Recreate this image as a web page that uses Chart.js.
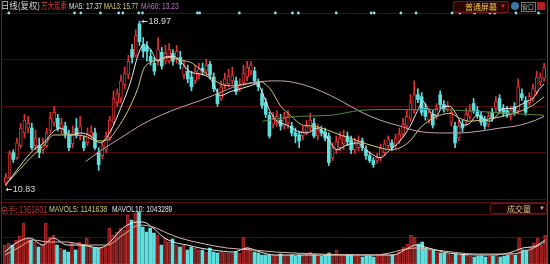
<!DOCTYPE html>
<html>
<head>
<meta charset="utf-8">
<script src="https://cdn.jsdelivr.net/npm/chart.js@4"></script>
<style>
  html, body { margin: 0; padding: 0; background: #000; }
  #wrap { position: relative; width: 550px; height: 264px; overflow: hidden; background: #000;
          font-family: "Liberation Sans", "Noto Sans CJK SC", sans-serif; }
  canvas { position: absolute; left: 0; }
  #priceChart { top: 0; }
  #volChart { top: 203px; }
  .txt { position: absolute; font-size: 9px; line-height: 10px; white-space: nowrap; transform-origin: 0 0; }
  .cjk { font-family: "Noto Sans CJK SC", sans-serif; }
  .edgeL { position: absolute; left: 1px; top: 0; width: 1px; height: 264px; background: #8a1414; }
  .edgeR { position: absolute; left: 547px; top: 0; width: 1px; height: 264px; background: #b81e1e; }
  .btn { position: absolute; border: 1px solid #6a1a1a; border-radius: 2px; background: #2a0606;
         font-size: 8px; line-height: 9px; }
</style>
</head>
<body>
<div id="wrap">
  <canvas id="priceChart" width="550" height="203"></canvas>
  <canvas id="volChart" width="550" height="61"></canvas>
  <div class="edgeL"></div>
  <div class="edgeR"></div>
  <div style="position:absolute;left:0;top:202px;width:550px;height:1px;background:#5a0e0e;"></div>

  <div class="txt cjk" style="left:1px;top:1px;color:#d8d8d8;transform:scaleX(0.93);">日线(复权)</div>
  <div class="txt cjk" style="left:41px;top:1px;color:#d83a3a;transform:scaleX(0.72);">方大炭素</div>
  <div class="txt" style="left:69px;top:1px;color:#e0e0e0;transform:scaleX(0.72);">MA5: 17.37</div>
  <div class="txt" style="left:104px;top:1px;color:#e0d070;transform:scaleX(0.67);">MA13: 15.77</div>
  <div class="txt" style="left:141px;top:1px;color:#c070d0;transform:scaleX(0.74);">MA60: 13.23</div>

  <div class="btn" style="left:453px;top:1px;width:54px;height:10px;">
    <span class="cjk" style="position:absolute;left:11px;top:0;color:#e8c850;">普通屏幕</span>
    <span style="position:absolute;left:46px;top:0;color:#c83030;font-size:6px;">▼</span>
  </div>
  <div class="txt" style="left:511px;top:2px;width:8px;height:8px;border-radius:4px;background:#3a78a8;"></div>
  <div class="txt cjk" style="left:521px;top:2px;width:13px;height:8px;border:1px solid #7a7a7a;font-size:6px;line-height:8px;color:#c0c0c0;">窗口</div>
  <div class="txt" style="left:537px;top:2px;width:8px;height:8px;background:#b02020;"></div>

  <div class="txt cjk" style="left:1px;top:204px;color:#d03a3a;font-size:8.5px;transform:scaleX(0.85);">总手: 1361801</div>
  <div class="txt" style="left:49px;top:204px;color:#d8c870;font-size:8.5px;transform:scaleX(0.82);">MAVOL5: 1141638</div>
  <div class="txt" style="left:112px;top:204px;color:#e0e0e0;font-size:8.5px;transform:scaleX(0.79);">MAVOL10: 1043289</div>
  <div class="btn" style="left:490px;top:203px;width:55px;height:9px;background:#140202;">
    <span class="cjk" style="position:absolute;left:16px;top:0;color:#d8c080;">成交量</span>
    <span style="position:absolute;left:48px;top:0;color:#b0b0b0;font-size:6px;">▼</span>
  </div>
</div>

<script>
// daily candles, oldest first
const openPrices = [
  10.97, 11.26, 12.48, 12.23, 12.82, 13.45, 13.69, 13.69, 12.82, 12.82,
  12.62, 12.82, 13.59, 13.93, 14.17, 13.59, 13.79, 13.35, 12.91, 13.69,
  13.30, 13.01, 12.96, 13.30, 13.45, 12.48, 12.33, 12.62, 13.20, 13.98,
  14.95, 15.15, 15.83, 16.31, 17.57, 17.28, 18.83, 17.77, 17.72, 17.23,
  16.89, 16.99, 17.43, 16.99, 16.99, 17.38, 17.09, 17.18, 16.31, 16.50,
  16.21, 16.02, 16.31, 16.65, 16.50, 16.84, 16.21, 15.39, 15.15, 15.83,
  15.87, 16.02, 16.02, 15.63, 15.92, 16.21, 16.50, 16.50, 15.97, 15.39,
  14.95, 14.32, 13.88, 13.98, 14.08, 13.79, 13.93, 13.79, 13.45, 13.35,
  13.30, 13.50, 13.69, 13.93, 13.30, 13.59, 13.50, 13.30, 12.23, 12.62,
  12.72, 12.91, 13.30, 13.11, 12.62, 12.72, 13.06, 12.62, 12.33, 12.09,
  12.09, 12.23, 12.48, 12.82, 12.96, 12.82, 13.06, 13.40, 13.79, 14.17,
  14.56, 15.34, 15.24, 14.66, 14.08, 14.37, 14.27, 15.34, 14.85, 14.66,
  13.98, 13.79, 13.20, 13.88, 13.98, 14.27, 14.90, 14.56, 14.32, 14.08,
  13.88, 14.47, 14.66, 15.15, 14.66, 14.56, 14.27, 14.76, 14.56, 15.39,
  15.05, 14.95, 15.15, 15.49, 15.97, 16.12
];
const highPrices = [
  11.46, 12.57, 12.62, 13.20, 13.93, 14.37, 14.27, 13.93, 13.59, 13.20,
  13.20, 13.69, 14.47, 14.76, 14.37, 14.17, 13.98, 13.59, 13.79, 14.17,
  14.27, 13.30, 13.69, 13.79, 13.69, 12.72, 13.01, 13.50, 14.27, 15.53,
  15.63, 16.31, 16.70, 17.28, 17.82, 18.54, 18.97, 18.16, 17.96, 17.57,
  17.18, 18.16, 17.67, 17.77, 17.86, 17.57, 17.77, 17.48, 16.99, 16.80,
  16.50, 16.80, 16.89, 16.89, 17.09, 16.99, 16.41, 15.63, 16.02, 16.41,
  16.60, 16.70, 16.21, 16.12, 16.80, 16.99, 16.99, 16.70, 16.12, 15.63,
  15.15, 14.47, 14.47, 14.56, 14.37, 14.47, 14.56, 13.98, 13.69, 13.54,
  13.79, 14.08, 14.42, 14.17, 13.88, 13.79, 13.69, 13.45, 12.96, 13.30,
  13.50, 13.59, 13.50, 13.30, 13.20, 13.30, 13.20, 12.82, 12.52, 12.23,
  12.43, 12.91, 13.11, 13.30, 13.11, 13.40, 13.69, 14.17, 14.56, 15.34,
  16.02, 15.63, 15.44, 14.90, 14.66, 14.56, 14.90, 15.53, 15.05, 15.00,
  14.66, 13.98, 14.08, 14.08, 14.66, 14.85, 15.15, 14.76, 14.51, 14.27,
  14.47, 14.66, 15.24, 15.34, 14.85, 14.76, 14.76, 14.95, 16.12, 15.63,
  15.24, 15.44, 15.87, 16.50, 16.41, 16.89
];
const lowPrices = [
  10.83, 11.17, 11.99, 12.14, 12.72, 13.20, 13.45, 12.62, 12.62, 12.23,
  12.43, 12.72, 13.45, 13.79, 13.54, 13.40, 13.20, 12.57, 12.72, 13.20,
  13.11, 12.57, 12.82, 13.16, 12.62, 11.60, 12.18, 12.48, 13.06, 13.88,
  14.76, 14.95, 15.63, 16.12, 16.89, 17.18, 17.77, 17.18, 16.99, 16.80,
  16.31, 16.80, 16.60, 16.84, 16.89, 16.80, 16.89, 16.60, 16.12, 15.92,
  15.53, 15.87, 16.12, 16.31, 16.31, 16.12, 15.49, 14.76, 15.05, 15.63,
  15.73, 15.87, 15.34, 15.49, 15.78, 16.02, 16.31, 15.87, 15.53, 14.66,
  14.22, 13.20, 13.69, 13.79, 13.59, 13.64, 13.69, 13.30, 12.96, 12.72,
  13.11, 13.35, 13.54, 13.20, 13.11, 13.30, 13.06, 11.84, 12.09, 12.43,
  12.57, 12.62, 12.82, 12.43, 12.43, 12.57, 12.57, 12.14, 11.99, 11.75,
  11.94, 12.09, 12.33, 12.67, 12.57, 12.67, 12.91, 13.25, 13.64, 14.03,
  14.42, 14.95, 14.32, 14.08, 13.93, 13.69, 14.13, 14.66, 14.47, 14.51,
  13.79, 12.72, 13.06, 13.50, 13.83, 14.13, 14.42, 14.17, 13.83, 13.64,
  13.74, 14.03, 14.51, 14.42, 14.27, 14.22, 14.08, 14.32, 14.42, 15.05,
  14.32, 14.81, 15.00, 15.34, 15.78, 16.02
];
const closePrices = [
  11.26, 12.43, 12.14, 12.96, 13.69, 14.08, 13.93, 12.72, 13.20, 12.48,
  12.91, 13.45, 14.17, 14.47, 13.69, 13.93, 13.40, 12.72, 13.45, 13.35,
  13.79, 12.72, 13.40, 13.50, 12.72, 11.89, 12.82, 13.30, 14.08, 15.15,
  15.39, 16.02, 16.41, 16.99, 17.18, 18.25, 17.96, 17.48, 17.48, 16.99,
  16.50, 17.57, 16.75, 17.38, 17.57, 16.99, 17.48, 16.84, 16.70, 16.12,
  15.73, 16.50, 16.60, 16.50, 16.80, 16.31, 15.63, 14.90, 15.73, 16.12,
  16.26, 16.31, 15.49, 15.83, 16.41, 16.70, 16.80, 16.02, 15.73, 14.81,
  14.37, 13.30, 14.17, 14.27, 13.79, 14.17, 14.27, 13.45, 13.30, 13.06,
  13.54, 13.79, 14.08, 13.30, 13.59, 13.45, 13.20, 11.99, 12.72, 13.01,
  13.20, 13.30, 13.01, 12.62, 12.91, 13.01, 12.72, 12.33, 12.09, 11.89,
  12.23, 12.72, 12.91, 13.11, 12.72, 13.20, 13.40, 13.88, 14.27, 14.95,
  15.34, 15.10, 14.47, 14.27, 14.47, 13.83, 14.66, 14.85, 14.61, 14.81,
  14.47, 12.96, 13.79, 13.69, 14.37, 14.56, 14.56, 14.32, 13.98, 13.79,
  14.27, 14.17, 15.00, 14.56, 14.42, 14.37, 14.56, 14.47, 15.73, 15.19,
  14.47, 15.24, 15.63, 16.21, 16.21, 16.70
];
// volume, thousand lots
const volumes = [
  893, 987, 890, 1128, 1316, 1927, 1222, 1130, 1034, 799,
  893, 1925, 1269, 1363, 895, 752, 658, 566, 987, 660,
  1034, 893, 1222, 890, 752, 755, 799, 846, 1692, 1363,
  1504, 1690, 1598, 2303, 2068, 2397, 2444, 1739, 1504, 1692,
  1457, 1363, 893, 1222, 1034, 1175, 893, 799, 890, 658,
  799, 752, 660, 655, 564, 752, 566, 517, 564, 520,
  517, 515, 564, 517, 1269, 799, 658, 564, 517, 423,
  425, 430, 423, 420, 470, 423, 425, 423, 376, 423,
  420, 470, 564, 423, 425, 376, 423, 517, 423, 658,
  470, 423, 425, 423, 376, 380, 329, 376, 376, 329,
  376, 470, 517, 423, 423, 470, 564, 799, 940, 1363,
  1269, 940, 1034, 752, 658, 660, 564, 517, 520, 470,
  423, 470, 423, 425, 423, 376, 329, 376, 380, 329,
  376, 376, 423, 329, 376, 423, 517, 423, 1222, 658,
  660, 800, 1000, 1222, 893, 1361.801
];

// moving average lines: [day, value]
const ma5Points = [
  [0, 10.90], [7.5, 12.62], [10.2, 12.96], [12.9, 13.54], [14.8, 13.69], [17.5, 13.35], [20.2, 13.45],
  [22.8, 13.30], [25.5, 12.96], [28.2, 13.54], [30.9, 14.66], [33.6, 15.97], [35.5, 17.23], [37.1, 17.82],
  [39, 17.57], [40.9, 16.99], [43.5, 17.23], [45.2, 17.23], [47, 16.99], [49.7, 16.46], [52.4, 16.36],
  [55.1, 16.12], [57.8, 15.29], [60.5, 15.49], [63.2, 15.63], [65.9, 15.78], [67.7, 15.87], [69.4, 15.29],
  [71.2, 14.51], [73.1, 14.03], [75.8, 13.83], [78.5, 13.54], [81.2, 13.45], [83.9, 13.69], [86.6, 13.20],
  [89.2, 12.62], [91.9, 12.86], [94.6, 12.96], [97.3, 12.57], [100.8, 12.23], [103.5, 12.62], [106.2, 13.06],
  [108.9, 13.79], [110.8, 14.51], [112.4, 15.00], [114.2, 14.51], [116.1, 14.32], [117.7, 14.76], [119.6, 14.76],
  [121.5, 14.32], [123.1, 13.83], [125, 13.93], [126.9, 14.32], [128.5, 14.17], [130.4, 14.03], [132.3, 14.32],
  [133.9, 14.66], [136.6, 14.66], [138.4, 14.81], [140.3, 15.00], [141.9, 15.15], [143.8, 15.63], [145, 15.87]
];
const ma13Points = [
  [0, 10.90], [7.5, 12.38], [10.2, 12.82], [12.9, 13.35], [16.7, 13.35], [21, 13.30], [24.7, 13.06],
  [27.4, 13.11], [30.1, 13.69], [32.8, 14.51], [35.5, 15.63], [37.1, 16.60], [39, 16.94], [41.7, 17.09],
  [44.4, 17.18], [47, 17.04], [49.7, 16.94], [52.4, 16.60], [57.8, 15.87], [60.5, 15.78], [65.1, 15.87],
  [68.5, 15.97], [71.2, 15.63], [73.9, 14.81], [76.6, 14.32], [80.1, 13.83], [82.8, 13.79], [86.6, 13.59],
  [90.1, 13.35], [93.5, 13.15], [97.3, 12.90], [100.8, 12.72], [103.5, 12.62], [106.2, 12.72], [108.9, 13.06],
  [111.6, 13.69], [114.2, 14.08], [116.9, 14.32], [119.6, 14.42], [122.3, 14.17], [125, 14.03], [127.7, 14.08],
  [131.2, 14.17], [134.9, 14.32], [138.4, 14.51], [141.9, 14.81], [145, 15.24]
];
const ma60Points = [
  [21.5, 12.04], [25.5, 12.57], [30.9, 13.20], [36.3, 13.83], [41.7, 14.32], [47, 14.71], [52.4, 15.05],
  [57, 15.39], [62.4, 15.78], [67.7, 15.97], [73.9, 16.02], [79.3, 15.87], [84.7, 15.53], [90.1, 15.05],
  [95.4, 14.51], [100.8, 14.08], [106.2, 13.79], [110.8, 13.54], [116.9, 13.45], [122.3, 13.45], [127.7, 13.54],
  [133.1, 13.69], [138.4, 13.83], [142.7, 14.08], [145, 14.27]
];
const longMaPoints = [
  [69.1, 14.03], [73.9, 14.17], [79.3, 14.27], [87.4, 14.32], [95.4, 14.56], [104.3, 14.61], [113.4, 14.61],
  [122.3, 14.56], [131.2, 14.47], [140.3, 14.37], [145, 14.32]
];
const mavol5Points = [
  [0, 564], [2.2, 893], [6.7, 1222], [10.2, 893], [12.9, 1222], [16.7, 893], [20.2, 893], [25.5, 752],
  [28.2, 1034], [31.7, 1692], [35.5, 1974], [37.1, 1974], [39.8, 1692], [42.5, 1269], [45.2, 1034],
  [48.9, 893], [52.4, 752], [55.9, 658], [61.3, 564], [65.1, 752], [68.5, 564], [72.6, 423], [90.6, 423],
  [104, 423], [108.3, 752], [110.2, 893], [113.7, 752], [119.1, 517], [129.8, 423], [135.2, 517],
  [139, 752], [142.5, 850], [145, 1141.6]
];
const mavol10Points = [
  [0, 423], [4, 799], [7.5, 1128], [12.1, 1034], [16.7, 1034], [22, 893], [27.4, 893], [31.7, 1363],
  [36.3, 1833], [39.8, 1739], [43.5, 1457], [47, 1222], [52.4, 987], [59.7, 752], [66.7, 658], [72.6, 564],
  [99.5, 423], [110.2, 752], [115.6, 658], [126.3, 470], [135.2, 470], [140.6, 650], [145, 1043.3]
];
// info-mine dots on the top border
const noticeDays = [0.8, 18.5, 20.2, 25.5, 30.4, 31.5, 35.8, 36.8, 51.6, 52.2, 62.9, 72.6, 77.2, 78.8,
  89, 98.4, 99.2, 106.4, 110.5, 120.2, 122.3, 126.3, 130.4, 131.7, 137.4, 143.5];

const priceGridLines = [10.19, 12.485, 14.78, 17.075, 19.37];
const volumeGridLines = [1269, 2350];
const volumeMax = 2870;

const UP = '#e03434';
const DOWN = '#5fdede';
const GRID = '#4e0c0c';
const days = closePrices.map((c, i) => i);
const isUp = (i) => closePrices[i] >= openPrices[i];
const pts = (arr) => arr.map(p => ({x: p[0], y: p[1]}));

function maLine(points, color) {
    return {
        type: 'line',
        data: pts(points),
        borderColor: color,
        borderWidth: 1,
        pointRadius: 0,
        tension: 0.35,
        cubicInterpolationMode: 'monotone',
        order: 1
    };
}

const extremeMarks = {
    id: 'extremeMarks',
    afterDatasetsDraw(chart) {
        const {ctx, scales: {x, y}} = chart;
        const hi = Math.max(...highPrices);
        const lo = Math.min(...lowPrices);
        ctx.save();
        ctx.strokeStyle = '#d0d0d0';
        ctx.fillStyle = '#d8d8d8';
        ctx.lineWidth = 1;
        ctx.font = '9px "Liberation Sans", sans-serif';
        ctx.textBaseline = 'middle';
        const marks = [
            [x.getPixelForValue(highPrices.indexOf(hi)), Math.round(y.getPixelForValue(hi)), hi],
            [x.getPixelForValue(lowPrices.indexOf(lo)) - 2, Math.round(y.getPixelForValue(lo)) + 3, lo]
        ];
        marks.forEach(([px, py, v]) => {
            ctx.beginPath();
            ctx.moveTo(px + 2, py + 0.5);
            ctx.lineTo(px + 8, py + 0.5);
            ctx.stroke();
            ctx.beginPath();
            ctx.moveTo(px + 2, py + 0.5);
            ctx.lineTo(px + 4, py - 1.5);
            ctx.lineTo(px + 4, py + 2.5);
            ctx.closePath();
            ctx.fill();
            ctx.fillText(v.toFixed(2), px + 9, py + 1);
        });
        ctx.restore();
    }
};

const noAxisWidth = (s) => { s.width = 0; };

new Chart(document.getElementById('priceChart'), {
    type: 'bar',
    data: {
        datasets: [
            {
                data: days.map(i => ({x: i, y: [lowPrices[i], highPrices[i]]})),
                backgroundColor: (c) => isUp(c.dataIndex) ? UP : DOWN,
                barThickness: 1,
                grouped: false,
                order: 3
            },
            {
                data: days.map(i => ({x: i, y: [openPrices[i], closePrices[i]]})),
                backgroundColor: (c) => isUp(c.dataIndex) ? '#000' : DOWN,
                borderColor: (c) => isUp(c.dataIndex) ? UP : DOWN,
                borderWidth: (c) => isUp(c.dataIndex) ? 1 : 0,
                borderSkipped: false,
                minBarLength: 1,
                barThickness: 3,
                grouped: false,
                order: 2
            },
            maLine(longMaPoints, '#4f8a3a'),
            maLine(ma60Points, '#c8a0b4'),
            maLine(ma13Points, '#d8c878'),
            maLine(ma5Points, '#e8e8e8'),
            {
                type: 'scatter',
                data: noticeDays.map(d => ({x: d, y: priceGridLines[priceGridLines.length - 1]})),
                pointRadius: 1.4,
                pointBackgroundColor: '#86e6e6',
                pointBorderWidth: 0,
                clip: false,
                order: 0
            }
        ]
    },
    options: {
        responsive: false,
        animation: false,
        layout: { padding: { left: 3, right: 3, top: 13, bottom: 1 } },
        plugins: { legend: { display: false }, tooltip: { enabled: false } },
        scales: {
            x: { type: 'linear', min: -0.5, max: days.length - 0.5, offset: false, display: false },
            y: {
                min: priceGridLines[0],
                max: priceGridLines[priceGridLines.length - 1],
                afterBuildTicks: (axis) => { axis.ticks = priceGridLines.map(v => ({value: v})); },
                afterFit: noAxisWidth,
                ticks: { display: false },
                grid: { color: GRID, drawTicks: false },
                border: { display: false }
            }
        }
    },
    plugins: [extremeMarks]
});

new Chart(document.getElementById('volChart'), {
    type: 'bar',
    data: {
        datasets: [
            {
                data: days.map(i => ({x: i, y: volumes[i]})),
                backgroundColor: (c) => isUp(c.dataIndex) ? '#7a1a1a' : DOWN,
                borderColor: (c) => isUp(c.dataIndex) ? '#b82a2a' : DOWN,
                borderWidth: (c) => isUp(c.dataIndex) ? 1 : 0,
                borderSkipped: false,
                barThickness: 3,
                grouped: false,
                order: 2
            },
            maLine(mavol10Points, '#d8b8a0'),
            maLine(mavol5Points, '#e8e8e8')
        ]
    },
    options: {
        responsive: false,
        animation: false,
        layout: { padding: { left: 3, right: 3, top: 0, bottom: 0 } },
        plugins: { legend: { display: false }, tooltip: { enabled: false } },
        scales: {
            x: { type: 'linear', min: -0.5, max: days.length - 0.5, offset: false, display: false },
            y: {
                min: 0,
                max: volumeMax,
                afterBuildTicks: (axis) => { axis.ticks = volumeGridLines.map(v => ({value: v})); },
                afterFit: noAxisWidth,
                ticks: { display: false },
                grid: { color: GRID, drawTicks: false },
                border: { display: false }
            }
        }
    }
});
</script>
</body>
</html>
